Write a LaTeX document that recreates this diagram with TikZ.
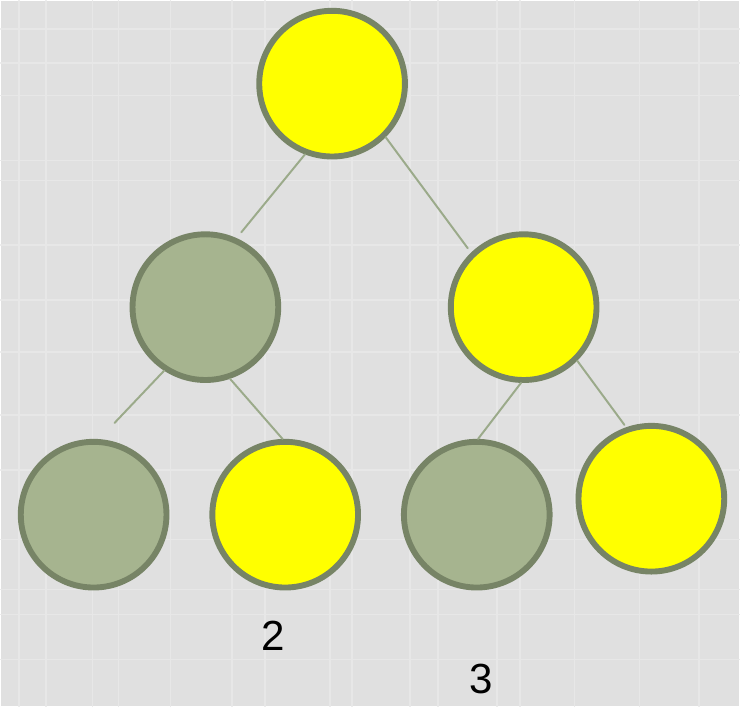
\documentclass[tikz,border=0pt]{standalone}
\usepackage{fontspec}
\setmainfont{Liberation Sans}
\usepackage{xcolor}
\definecolor{paperbg}{HTML}{E0E0E0}
\definecolor{plaid}{HTML}{E7E7E7}
\definecolor{rim}{HTML}{778466}
\definecolor{sage}{HTML}{A6B48F}
\definecolor{lemon}{HTML}{FFFF00}
\definecolor{twig}{HTML}{9BAA8A}
\tikzset{
  tree diagram/.style={
    x=0.025cm, y=-0.025cm,
    line cap=round,
    line join=round
  },
  treenode/.style={
    circle,
    draw=rim,
    line width=4.2pt,
    inner sep=0pt,
    minimum size=3.65cm
  },
  greennode/.style={
    treenode,
    fill=sage
  },
  yellownode/.style={
    treenode,
    fill=lemon
  },
  branch/.style={
    draw=twig,
    line width=1.4pt
  },
  countlabel/.style={
    font=\fontsize{30}{36}\selectfont,
    text=black
  }
}
\begin{document}
\begin{tikzpicture}[tree diagram]
% background
\fill[paperbg] (0,0) rectangle (740,707);
\foreach \gx in {18,45,92,118,170,232,265,330,352,410,438,497,520,575,640,700}
  \draw[plaid, line width=1.2pt] (\gx,0) -- (\gx,707);
\foreach \gy in {28,62,95,160,180,245,300,352,415,470,540,590,615,660}
  \draw[plaid, line width=1.2pt] (0,\gy) -- (740,\gy);
\useasboundingbox (0,0) rectangle (740,707);

\node[yellownode] (root) at (332,83) {};
\node[greennode] (lmid) at (205,307) {};
\node[yellownode] (rmid) at (524,307) {};
\node[greennode] (bleft) at (93,515) {};
\node[yellownode] (btwo) at (285,515) {};
\node[greennode] (bthree) at (477,515) {};
\node[yellownode] (bfour) at (652,499) {};

\coordinate (endl) at (241,232);
\coordinate (endr) at (468,248);
\coordinate (endbl) at (114,423);
\coordinate (endbf) at (625,425);

\draw[branch] (root.249) -- (endl);
\draw[branch] (root.315) -- (endr);
\draw[branch] (lmid.237) -- (endbl);
\draw[branch] (lmid.289) -- (btwo.92);
\draw[branch] (rmid.268) -- (bthree.89);
\draw[branch] (rmid.315) -- (endbf);

\node[countlabel] (two) at (273,636) {2};
\node[countlabel] (three) at (481,680) {3};
\end{tikzpicture}
\end{document}
